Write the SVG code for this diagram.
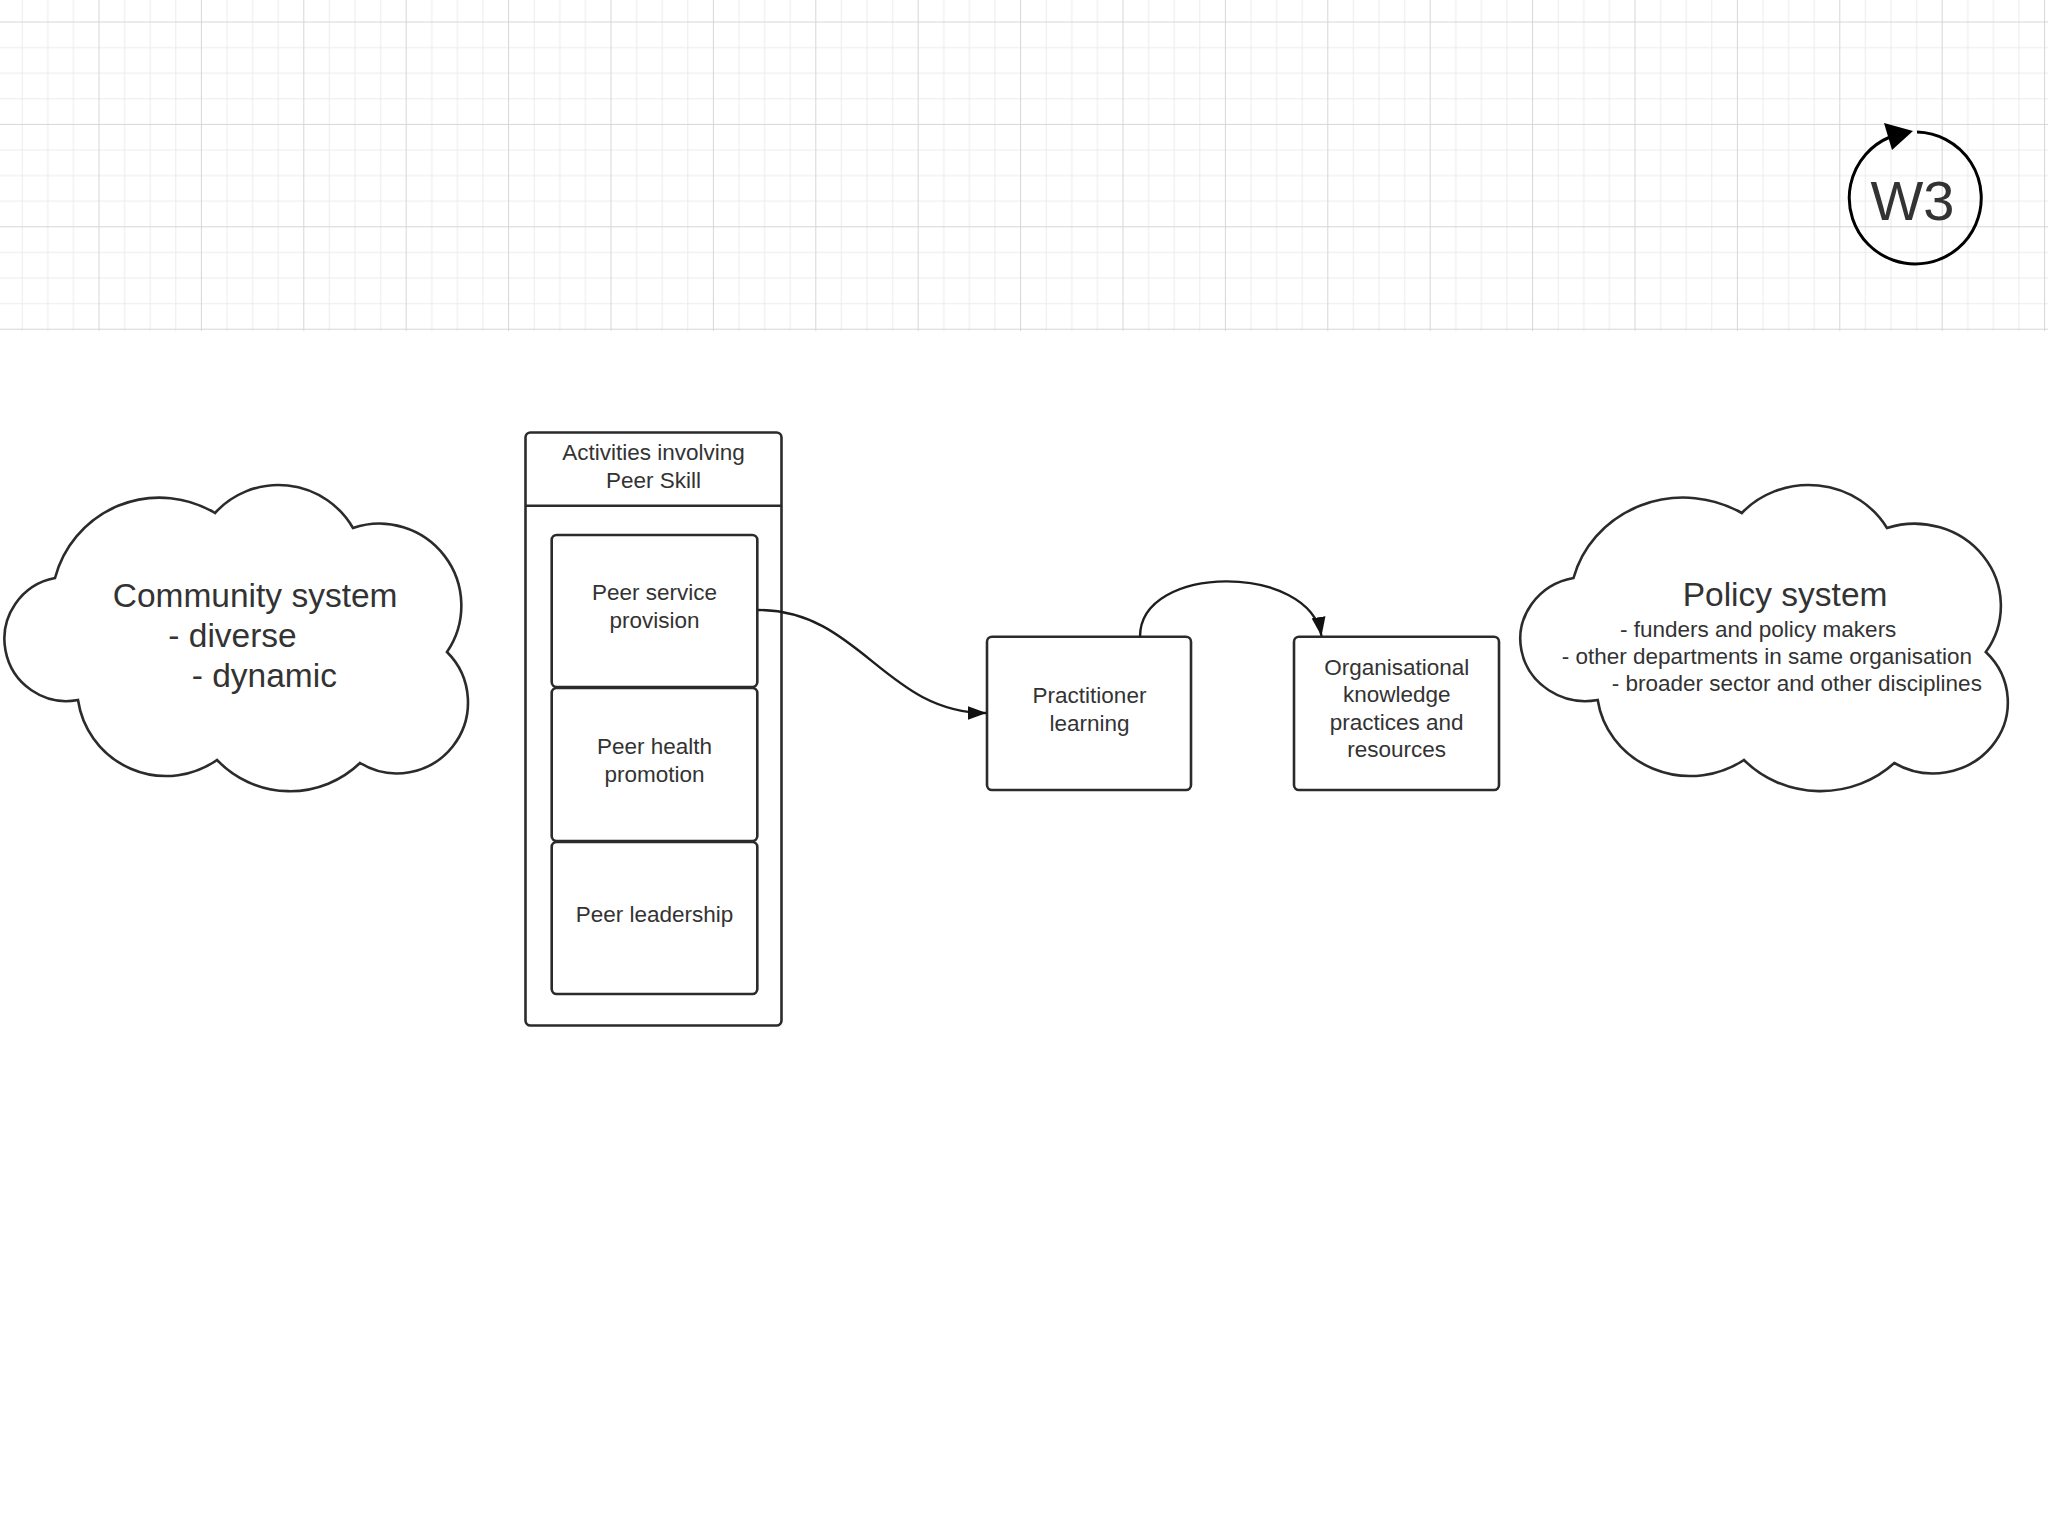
<svg xmlns="http://www.w3.org/2000/svg" width="2048" height="1536" viewBox="0 0 2048 1536">
  <style>
    .shape { fill: #ffffff; stroke: #2b2b2b; stroke-width: 2.6; }
    .conn { fill: none; stroke: #1e1e1e; stroke-width: 2.4; }
    .t { font-family: "Liberation Sans", Arial, sans-serif; fill: #333333; }
    .s { font-size: 22.5px; }
    .l { font-size: 33.5px; }
    .c { text-anchor: middle; }
  </style>
  <defs>
    <pattern id="grid" patternUnits="userSpaceOnUse" x="98.5" y="21.5" width="102.4" height="102.4">
      <path d="M26.1 0V102.4M51.7 0V102.4M77.3 0V102.4M0 26.1H102.4M0 51.7H102.4M0 77.3H102.4" stroke="#ebebeb" stroke-width="1" fill="none"/>
      <path d="M0.5 0V102.4M0 0.5H102.4" stroke="#d6d6d6" stroke-width="1" fill="none"/>
    </pattern>
    <marker id="arrow" markerUnits="userSpaceOnUse" viewBox="0 0 19 14" markerWidth="19" markerHeight="14" refX="19" refY="7" orient="auto">
      <path d="M0,0 L19,7 L0,14 Z" fill="#111111"/>
    </marker>
  </defs>

  <rect x="0" y="0" width="2048" height="1536" fill="#ffffff"/>
  <rect id="grid-area" x="0" y="0" width="2048" height="331" fill="url(#grid)"/>

  <g id="w3-badge">
    <path d="M1917,132 A66,66 0 1 1 1890,137" fill="none" stroke="#000000" stroke-width="3"/>
    <polygon points="1913,131 1884,123 1892,150" fill="#000000"/>
    <text class="t c" x="1912.5" y="220" font-size="56" fill="#000000">W3</text>
  </g>

  <g id="community-system">
    <path class="shape" d="M55,578 A108,108 0 0 1 215,513 A86,86 0 0 1 353,528 A82,82 0 0 1 447,652 A71,71 0 0 1 360,763 A101,101 0 0 1 217,760 A89,89 0 0 1 78,700 A62,62 0 0 1 55,578 Z"/>
    <text class="t l" x="112.7" y="606.5">Community system</text>
    <text class="t l" x="168.3" y="646.7">- diverse</text>
    <text class="t l" x="191.7" y="686.7">- dynamic</text>
  </g>

  <g id="activities-container">
    <rect class="shape" x="525.5" y="432.5" width="256" height="593" rx="5"/>
    <line x1="525.5" y1="505.7" x2="781.5" y2="505.7" stroke="#2b2b2b" stroke-width="2.6"/>
    <text class="t s c" x="653.5" y="460">Activities involving</text>
    <text class="t s c" x="653.5" y="487.7">Peer Skill</text>
  </g>

  <g id="peer-service-provision">
    <rect class="shape" x="551.7" y="535" width="205.6" height="152" rx="5"/>
    <text class="t s c" x="654.5" y="600">Peer service</text>
    <text class="t s c" x="654.5" y="628">provision</text>
  </g>

  <g id="peer-health-promotion">
    <rect class="shape" x="551.7" y="688" width="205.6" height="153" rx="5"/>
    <text class="t s c" x="654.5" y="754">Peer health</text>
    <text class="t s c" x="654.5" y="781.7">promotion</text>
  </g>

  <g id="peer-leadership">
    <rect class="shape" x="551.7" y="842" width="205.6" height="152" rx="5"/>
    <text class="t s c" x="654.5" y="921.7">Peer leadership</text>
  </g>

  <g id="practitioner-learning">
    <rect class="shape" x="987" y="636.7" width="204" height="153.3" rx="5"/>
    <text class="t s c" x="1089.5" y="703.3">Practitioner</text>
    <text class="t s c" x="1089.5" y="730.7">learning</text>
  </g>

  <g id="organisational-knowledge">
    <rect class="shape" x="1294" y="636.7" width="205" height="153.3" rx="5"/>
    <text class="t s c" x="1396.7" y="675">Organisational</text>
    <text class="t s c" x="1396.7" y="702.4">knowledge</text>
    <text class="t s c" x="1396.7" y="729.8">practices and</text>
    <text class="t s c" x="1396.7" y="757">resources</text>
  </g>

  <g id="policy-system">
    <path class="shape" d="M1573.5,578 A113.6,108 0 0 1 1741.8,513 A90.5,86 0 0 1 1887,528 A86.3,82 0 0 1 1985.8,652 A74.7,71 0 0 1 1894.3,763 A106.3,101 0 0 1 1743.9,760 A93.6,89 0 0 1 1597.7,700 A65.2,62 0 0 1 1573.5,578 Z"/>
    <text class="t l" x="1682.7" y="606">Policy system</text>
    <text class="t s" x="1620" y="636.7">- funders and policy makers</text>
    <text class="t s" x="1561.7" y="663.5">- other departments in same organisation</text>
    <text class="t s" x="1611.7" y="690.7">- broader sector and other disciplines</text>
  </g>

  <g id="connectors">
    <path class="conn" d="M758,610 C860,610 885,713 986.5,713" marker-end="url(#arrow)"/>
    <path class="conn" d="M1140,636.7 C1140,563 1310,563 1321.5,636" marker-end="url(#arrow)"/>
  </g>
</svg>
